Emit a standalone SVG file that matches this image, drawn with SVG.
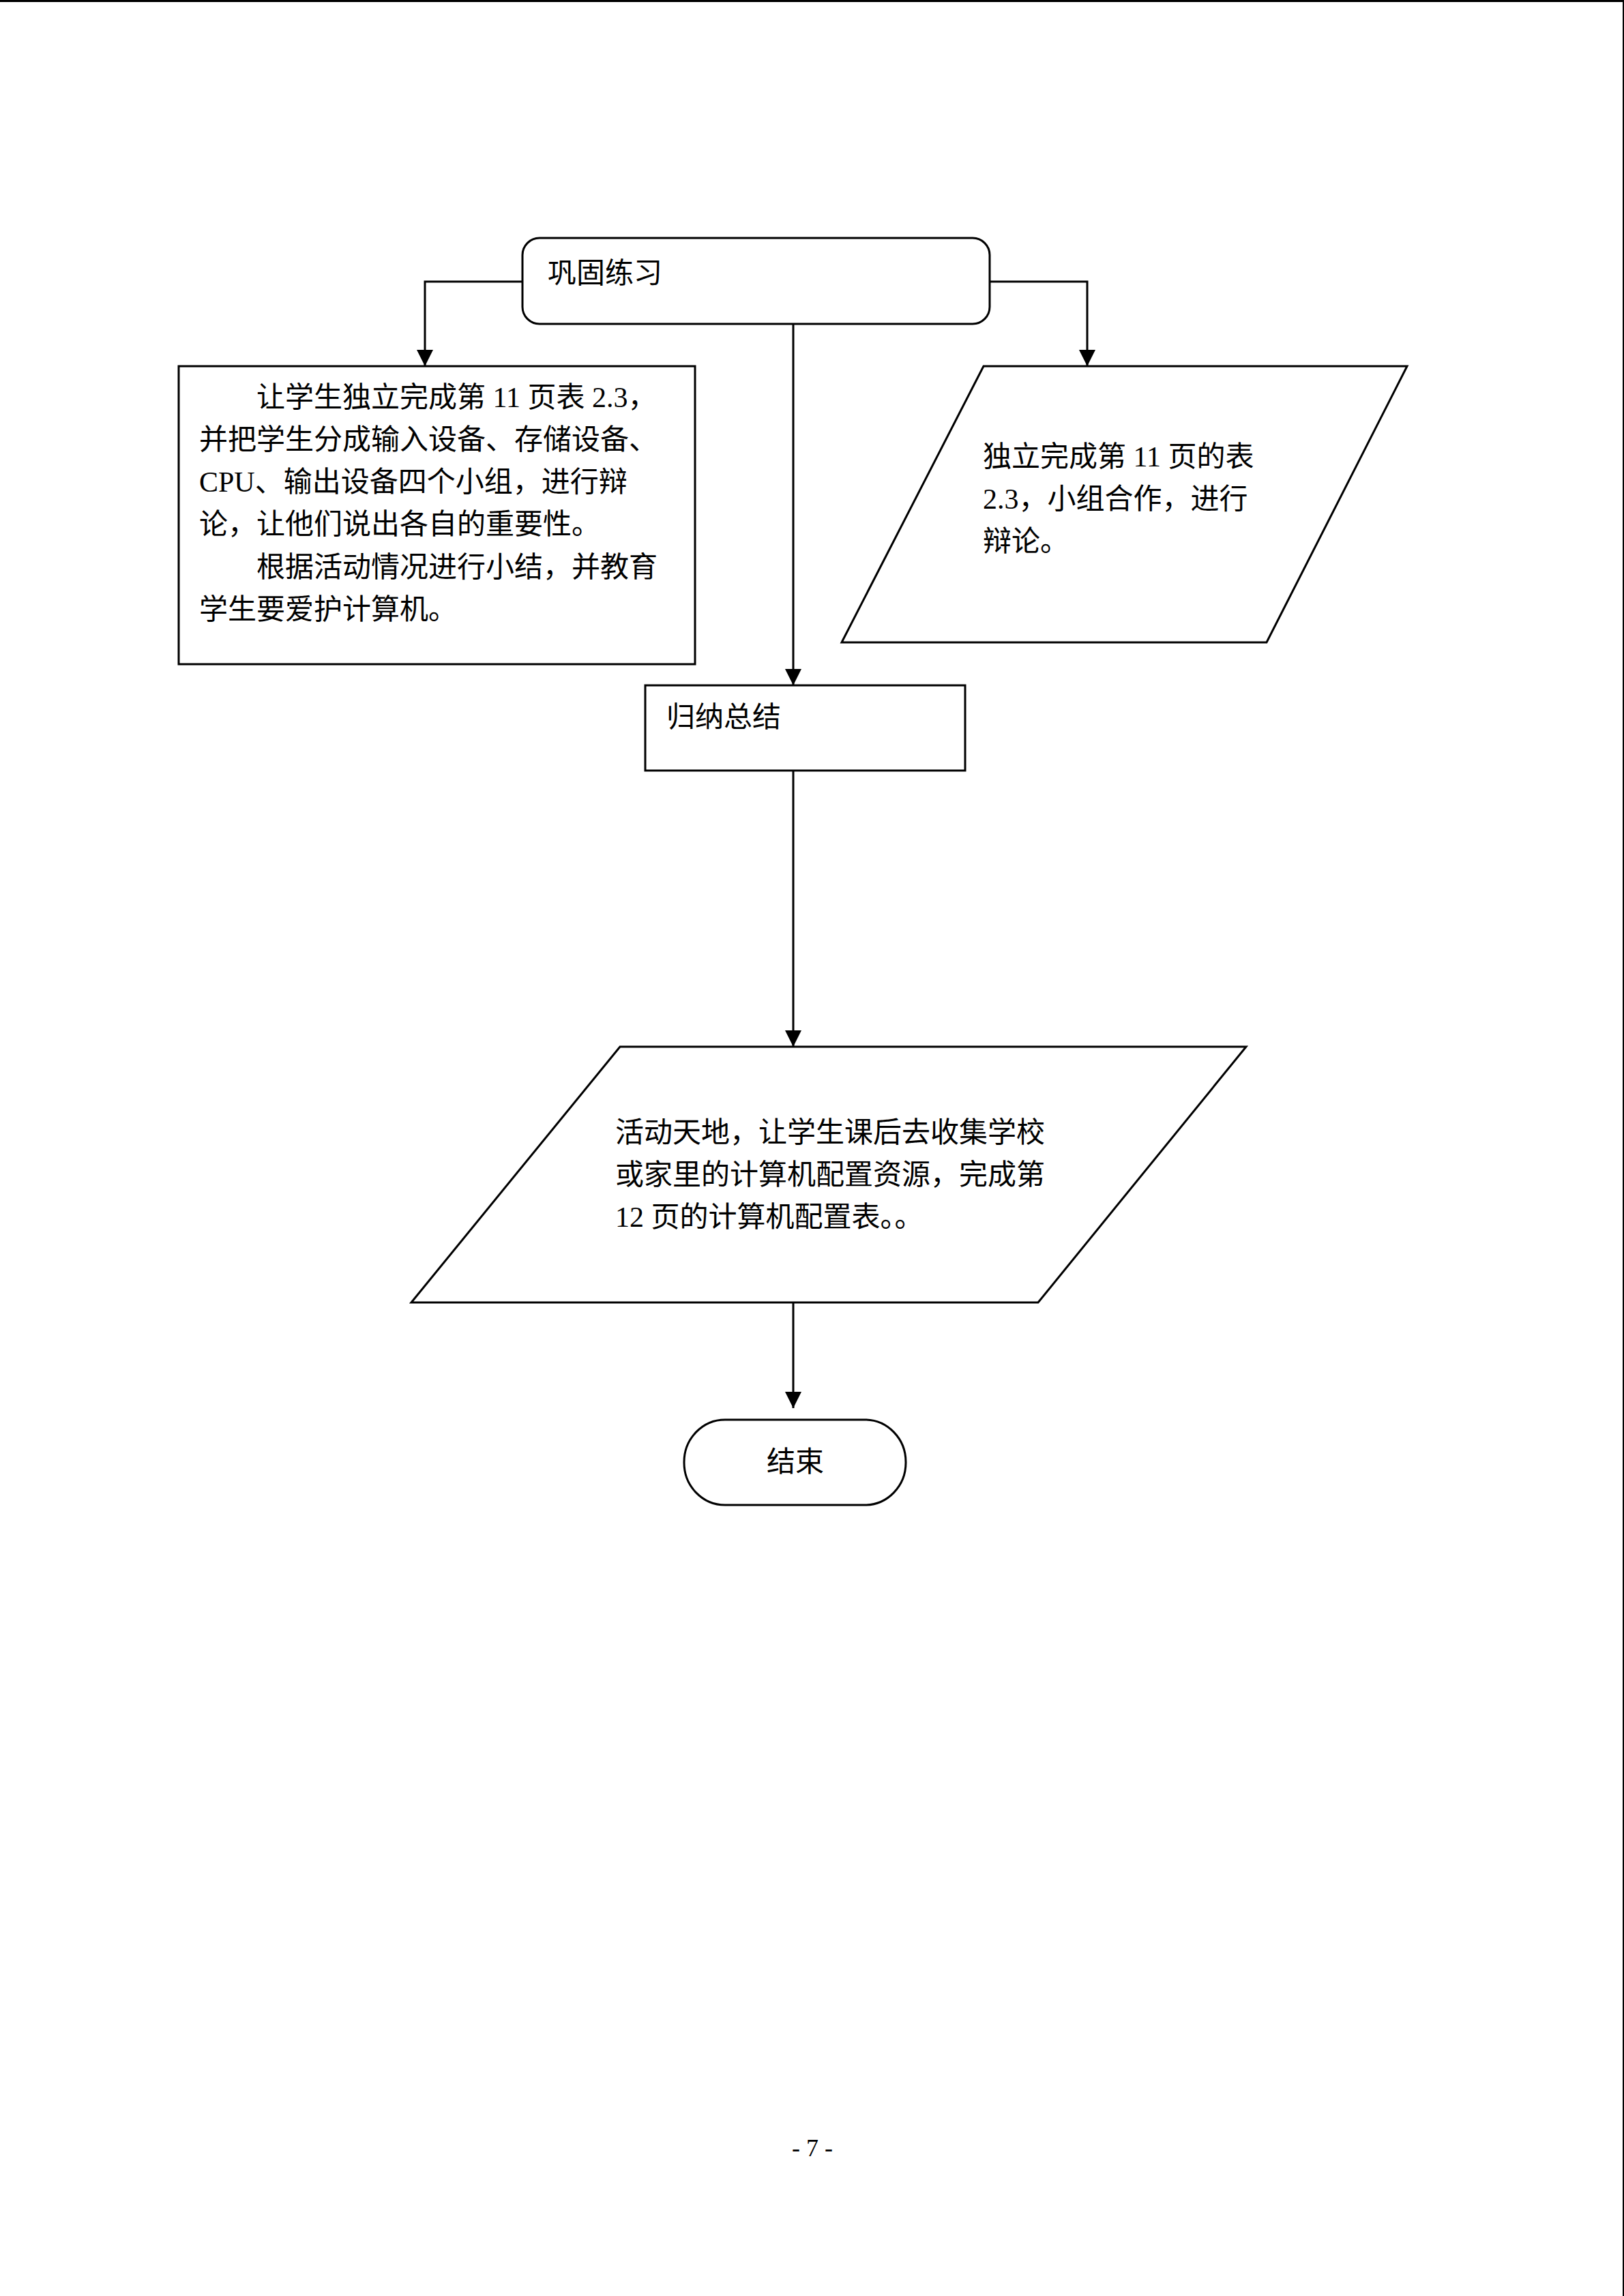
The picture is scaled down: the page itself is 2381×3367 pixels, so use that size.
<svg xmlns="http://www.w3.org/2000/svg" width="2381" height="3367" viewBox="0 0 2381 3367">
<style>
.shape{fill:#ffffff;stroke:#000000;stroke-width:3}
.conn{fill:none;stroke:#000000;stroke-width:3}
.t{font-family:"Liberation Serif","Noto Sans CJK SC",serif;font-size:42px;fill:#000000}
.pg{font-family:"Liberation Serif","Noto Sans CJK SC",serif;font-size:36px;fill:#000000}
</style>
<defs>
<marker id="arrow" markerUnits="userSpaceOnUse" viewBox="0 0 24 24" refX="24" refY="12" markerWidth="24" markerHeight="24" orient="auto">
<path d="M0,0 L24,12 L0,24 z" fill="#000000"/>
</marker>
</defs>
<rect x="0" y="0" width="2381" height="3367" fill="#ffffff"/>
<line x1="0" y1="1.5" x2="2381" y2="1.5" stroke="#000000" stroke-width="3"/>
<line x1="2380" y1="0" x2="2380" y2="3367" stroke="#000000" stroke-width="2"/>

<g id="connectors">
<path class="conn" d="M766,413 H623 V537" marker-end="url(#arrow)"/>
<path class="conn" d="M1451,413 H1594 V537" marker-end="url(#arrow)"/>
<path class="conn" d="M1163,475 V1005" marker-end="url(#arrow)"/>
<path class="conn" d="M1163,1130 V1535" marker-end="url(#arrow)"/>
<path class="conn" d="M1163,1910 V2065" marker-end="url(#arrow)"/>
</g>

<g id="node-gonggu">
<rect class="shape" x="766" y="349" width="685" height="126" rx="25" ry="25"/>
<text class="t" x="803" y="415">巩固练习</text>
</g>

<g id="node-teacher">
<rect class="shape" x="262" y="537" width="757" height="437"/>
<text class="t" x="376" y="597">让学生独立完成第 11 页表 2.3，</text>
<text class="t" x="292" y="659">并把学生分成输入设备、存储设备、</text>
<text class="t" x="292" y="721">CPU、输出设备四个小组，进行辩</text>
<text class="t" x="292" y="783">论，让他们说出各自的重要性。</text>
<text class="t" x="376" y="846">根据活动情况进行小结，并教育</text>
<text class="t" x="292" y="908">学生要爱护计算机。</text>
</g>

<g id="node-student">
<polygon class="shape" points="1442,537 2063,537 1857,942 1234,942"/>
<text class="t" x="1441" y="684">独立完成第 11 页的表</text>
<text class="t" x="1441" y="746">2.3，小组合作，进行</text>
<text class="t" x="1441" y="808">辩论。</text>
</g>

<g id="node-summary">
<rect class="shape" x="946" y="1005" width="469" height="125"/>
<text class="t" x="977" y="1066">归纳总结</text>
</g>

<g id="node-activity">
<polygon class="shape" points="909,1535 1827,1535 1522,1910 603,1910"/>
<text class="t" x="902" y="1675">活动天地，让学生课后去收集学校</text>
<text class="t" x="902" y="1737">或家里的计算机配置资源，完成第</text>
<text class="t" x="902" y="1799">12 页的计算机配置表。。</text>
</g>

<g id="node-end">
<rect class="shape" x="1003" y="2082" width="325" height="125" rx="60" ry="62"/>
<text class="t" x="1166" y="2158" text-anchor="middle">结束</text>
</g>

<text class="pg" x="1191" y="3162" text-anchor="middle">- 7 -</text>
</svg>
